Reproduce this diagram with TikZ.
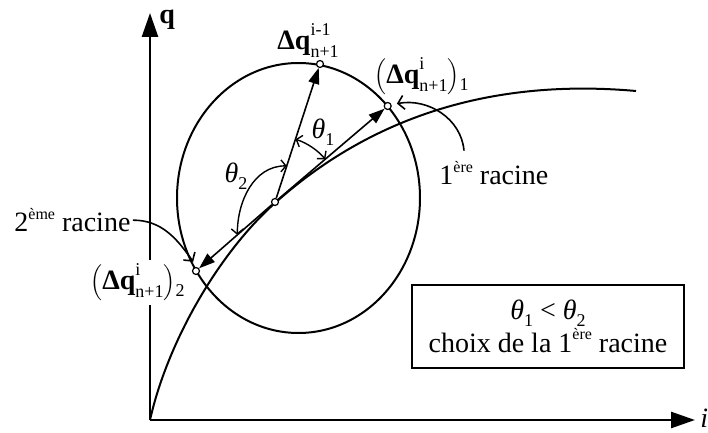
\documentclass[tikz,border=0pt]{standalone}
\usepackage{fontspec}
\setmainfont{Liberation Serif}
\usetikzlibrary{arrows.meta}

\newcommand\supsub[2]{\makebox[0pt][l]{\raisebox{1.1ex}{\fontsize{9}{9}\selectfont #1}}\raisebox{-0.6ex}{\fontsize{9}{9}\selectfont #2}}
\newcommand\expo[1]{\raisebox{1ex}{\fontsize{8}{8}\selectfont #1}}
\newcommand\ind[1]{\raisebox{-0.5ex}{\fontsize{9}{9}\selectfont #1}}

\begin{document}
\begin{tikzpicture}[x=0.5pt,y=-0.5pt,
every node/.style={font=\fontsize{14}{16}\selectfont,inner sep=1pt},
axis/.style={line width=1.3pt,-{Triangle[length=12pt,width=8pt]}},
vec/.style={line width=0.8pt,-{Triangle[length=8pt,width=5.5pt]}},
angarr/.style={line width=0.7pt,{Straight Barb[length=2.5pt,width=6pt]}-{Straight Barb[length=2.5pt,width=6pt]}},
note/.style={line width=0.8pt,-{Straight Barb[length=3pt,width=7pt]}},
pt/.style={circle,draw,fill=white,line width=0.6pt,inner sep=0pt,minimum size=3.5pt}
]
\useasboundingbox (0,0) rectangle (708,433);
\coordinate (O) at (150,420);
\coordinate (qend) at (150,13);
\coordinate (iend) at (695,420);
\draw[axis] (O) -- (qend);
\draw[axis] (O) -- (iend);
\node[anchor=base west] (qlab) at (157,24) {\textbf{q}};
\node[anchor=base west] (ilab) at (698,428) {\textit{i}};
\draw[line width=1pt] (O) .. controls (168,340) and (220,252) .. (275,203)
  .. controls (370,118) and (490,78) .. (636,91);
\draw[line width=1pt] (298.5,198) ellipse [x radius=121.5,y radius=135];
\node[pt] (p0) at (275,202) {};
\node[pt] (pprev) at (320,64) {};
\node[pt] (p1) at (387.7,106) {};
\node[pt] (p2) at (196,271) {};
\draw[vec] (p0) -- (pprev);
\draw[vec] (p0) -- (p1);
\draw[vec] (p0) -- (p2);
\draw[angarr] ([shift={(-40.4:66)}]p0.center) arc[start angle=-40.4,end angle=-71.9,radius=66];
\draw[angarr] ([shift={(-71.9:38)}]p0.center) to[out=180,in=90] ([shift={(138.9:50)}]p0.center);
\node[anchor=base west] (lprev) at (275,50) {\textbf{Δq}\supsub{i-1}{n+1}};
\node[anchor=base west] (l1) at (372,84) {$\left(\mbox{\textbf{Δq}\supsub{i}{n+1}}\right)$\ind{1}};
\node[anchor=base west,fill=white,inner sep=2pt] (l2) at (86,290) {$\left(\mbox{\textbf{Δq}\supsub{i}{n+1}}\right)$\ind{2}};
\node (th1) at (323,132) {\textit{θ}\ind{1}};
\node (th2) at (236,176) {\textit{θ}\ind{2}};
\node[anchor=base west] (r1) at (437,185) {1\expo{ère} racine};
\node[anchor=base west] (r2) at (12,232) {2\expo{ème} racine};
\draw[note] ([xshift=13.5pt,yshift=4pt]r1.north west) to[out=95,in=10] ([xshift=4.6pt,yshift=1.2pt]p1.center);
\draw[note] (r2.east) to[out=0,in=125] ([xshift=-1.4pt,yshift=4.6pt]p2.center);
\node[draw,line width=0.8pt,minimum width=136pt,minimum height=41.5pt,align=center] (choix) at (548,326.5) {\textit{θ}\ind{1} < \textit{θ}\ind{2}\\[0.5pt]choix de la 1\expo{ère} racine};
\end{tikzpicture}
\end{document}
